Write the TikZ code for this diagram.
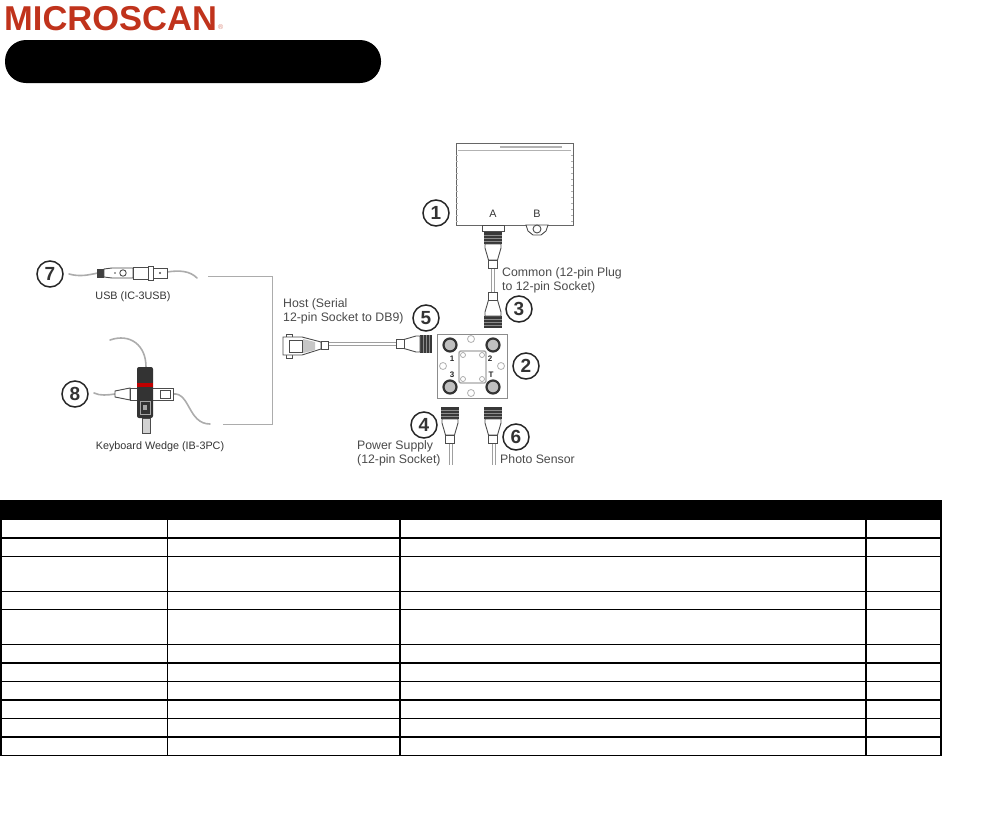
\documentclass[tikz,border=0pt]{standalone}
\usepackage{fontspec}
\setmainfont{Liberation Sans}
\definecolor{logored}{HTML}{C0331C}
\definecolor{inkgray}{HTML}{4A4A4A}
\tikzset{
    callout/.style={draw=black!85, line width=1.5pt, fill=white, circle, minimum size=26pt, inner sep=0pt, font=\bfseries\fontsize{19}{19}\selectfont, text=black!80},
    lbl/.style={anchor=west, align=left, inner sep=0pt, text=inkgray, font=\fontsize{12.3}{14}\selectfont},
    smalllbl/.style={inner sep=0pt, text=black!80, font=\fontsize{10.8}{12}\selectfont},
    portlbl/.style={inner sep=0pt, text=black!85, font=\bfseries\fontsize{8}{8}\selectfont},
    part/.style={draw=black!70, line width=0.9pt, fill=white},
    wirepair/.style={draw=gray!75, line width=1pt, double=white, double distance=2.6pt},
    softcable/.style={draw=gray!65, line width=1.6pt, line cap=round},
    bracket/.style={draw=gray!65, line width=1pt},
    cableplug/.pic={
        \fill[black!78] (0,-9) rectangle (12,9);
        \foreach \k in {3,6,9} {
            \draw[black!45, line width=0.5pt] (\k,-9) -- (\k,9);
        }
        \draw[part] (12,-8) -- (16,-8) -- (28,-4.5) -- (28,4.5) -- (16,8) -- (12,8) -- cycle;
        \draw[part] (28,-4.5) rectangle (36,4.5);
    }
}
\begin{document}
\begin{tikzpicture}[x=1pt, y=-1pt]
    \useasboundingbox (0,0) rectangle (1006,830);

    % header
    \node[anchor=west, inner sep=0pt, text=logored, font=\bfseries\fontsize{34.5}{34.5}\selectfont] (logo) at (4,19) {MICROSCAN};
    \node[anchor=south west, inner sep=0pt, text=logored!60, font=\fontsize{7}{7}\selectfont] (regmark) at (218,30) {®};
    \fill[black, rounded corners=21pt] (5,40) rectangle (381,83);

    % reader
    \draw[black!60, line width=0.9pt, fill=white] (456,143) rectangle (573,225);
    \draw[gray!60, line width=0.8pt] (458,150) -- (571,150);
    \draw[gray!60, line width=1.5pt] (500,147) -- (562,147);
    \foreach \ty in {155,161,...,221} {
        \draw[gray!60, line width=0.5pt] (456,\ty) -- (458,\ty);
        \draw[gray!60, line width=0.5pt] (571,\ty) -- (573,\ty);
    }
    \node[smalllbl] (porta) at (493,214) {A};
    \node[smalllbl] (portb) at (537,214) {B};
    \draw[part] (482,225) rectangle (504,231);
    \draw[part] (526,225) -- (548,225) -- (546,231) -- (541,235) -- (533,235) -- (528,231) -- cycle;
    \draw[part] (537,229) circle (4);
    \draw[wirepair] (493,268) -- (493,297);
    \pic[rotate=-90] at (493,232) {cableplug};
    \pic[rotate=90] at (493,328) {cableplug};

    % terminal block
    \draw[black!45, line width=0.8pt, fill=white] (437,334) rectangle (507,398);
    \draw[gray!70, line width=1.4pt, fill=white, rounded corners=2pt] (459,351) rectangle (486,383);
    \foreach \hx/\hy in {463/355, 482/355, 463/379, 482/379} {
        \draw[gray!70, line width=0.7pt] (\hx,\hy) circle (2.5);
    }
    \foreach \px/\py in {450/345, 493/345, 450/387, 493/387} {
        \draw[black!80, line width=2.2pt, fill=gray!50] (\px,\py) circle (6.5);
    }
    \foreach \nx/\ny in {471/339, 471/393, 443/366, 501/366} {
        \draw[gray!60, line width=0.8pt] (\nx,\ny) circle (3.5);
    }
    \node[portlbl] (pinone) at (452,359) {1};
    \node[portlbl] (pintwo) at (490,359) {2};
    \node[portlbl] (pinthree) at (452,375) {3};
    \node[portlbl] (pinfour) at (491,375) {T};

    % host cable
    \draw[wirepair] (328,344) -- (396,344);
    \pic[rotate=180] at (432,344) {cableplug};
    \draw[part] (286,334) rectangle (292,338);
    \draw[part] (286,354) rectangle (292,358);
    \draw[part] (283,337) -- (302,337) -- (321,342) -- (321,349) -- (302,355) -- (283,355) -- cycle;
    \fill[gray!45] (303,339) -- (315,342) -- (315,350) -- (303,353) -- cycle;
    \draw[part] (289,340) rectangle (302,352);
    \draw[part] (321,341) rectangle (328,349);

    % lower cables
    \draw[wirepair] (451,440) -- (451,465);
    \draw[wirepair] (494,440) -- (494,465);
    \pic[rotate=-90] at (450,407) {cableplug};
    \pic[rotate=-90] at (493,407) {cableplug};

    % usb adapter
    \draw[softcable] (69,274) .. controls (80,277) and (88,275) .. (98,273);
    \draw[softcable] (167,272) .. controls (180,270) and (190,271) .. (197,278);
    \fill[black!75] (97,269) rectangle (104,278);
    \draw[part] (104,269) -- (112,268) -- (133,268) -- (133,278) -- (112,278) -- (104,277) -- cycle;
    \draw[part] (123,273) circle (3.2);
    \fill[black!70] (115,273) circle (0.9);
    \draw[part] (133,267) rectangle (148,279);
    \draw[part] (148,266) rectangle (153,280);
    \draw[part] (153,268) rectangle (167,278);
    \fill[black!70] (160,273) circle (1.2);

    % keyboard wedge
    \draw[softcable] (110,340) .. controls (130,333) and (146,345) .. (146,367);
    \draw[softcable] (94,393) .. controls (100,396) and (108,395) .. (115,394);
    \draw[softcable] (173,394) .. controls (190,392) and (188,424) .. (210,424);
    \draw[part, fill=gray!35] (142,418) rectangle (150,433);
    \draw[part] (115,391) -- (130,388) -- (130,400) -- (115,397) -- cycle;
    \draw[part] (130,388) rectangle (173,400);
    \draw[part] (160,390) rectangle (170,398);
    \fill[black!80, rounded corners=2pt] (137,367) rectangle (153,418);
    \fill[red!75!black] (137,383) rectangle (153,387);
    \draw[gray!70, line width=0.8pt] (140,401) rectangle (150,414);
    \fill[gray!70] (143,405) rectangle (147,410);

    % bracket joining both adapters
    \coordinate (usbend) at (208,276);
    \coordinate (wedgeend) at (223,424);
    \draw[bracket] (usbend) -- (272,276) -- (272,424) -- (wedgeend);

    \node[callout] (one) at (436,213) {1};
    \node[callout] (two) at (526,366) {2};
    \node[callout] (three) at (519,309) {3};
    \node[callout] (four) at (424,425) {4};
    \node[callout] (five) at (426,318) {5};
    \node[callout] (six) at (516,437) {6};
    \node[callout] (seven) at (50,274) {7};
    \node[callout] (eight) at (75,394) {8};

    \node[lbl] (common) at (502,280) {Common (12-pin Plug\\to 12-pin Socket)};
    \node[lbl] (host) at (283,311) {Host (Serial\\12-pin Socket to DB9)};
    \node[lbl] (power) at (357,453) {Power Supply\\(12-pin Socket)};
    \node[lbl] (photo) at (500,459) {Photo Sensor};
    \node[smalllbl] (usb) at (133,297) {USB (IC-3USB)};
    \node[smalllbl] (wedge) at (160,447) {Keyboard Wedge (IB-3PC)};

    % table
    \fill[black] (0,500) rectangle (942,520);
    \foreach \ly/\lw in {537.7/2, 556/1, 591/1, 609/1, 644/1, 662.7/2, 681/1, 700/2, 718/1, 736.7/2, 755/1} {
        \draw[black, line width=\lw pt] (0,\ly) -- (942,\ly);
    }
    \foreach \lx/\lw in {1/2, 167.5/1, 400/1.5, 866/1.5, 941/2} {
        \draw[black, line width=\lw pt] (\lx,520) -- (\lx,755.5);
    }
\end{tikzpicture}
\end{document}
